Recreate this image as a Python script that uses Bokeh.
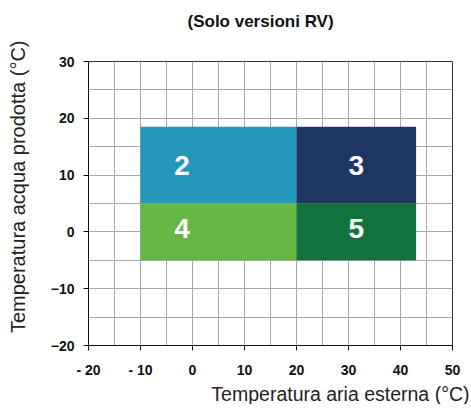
import math
from bokeh.plotting import figure
from bokeh.models import ColumnDataSource, Title, FixedTicker
from bokeh.core.properties import value
from bokeh.embed import file_html
from bokeh.resources import INLINE

# Data
zones = ["2", "3", "4", "5"]
x_left = [-10, 20, -10, 20]
x_right = [20, 43, 20, 43]
y_bottom = [5, 5, -5, -5]
y_top = [18.5, 18.5, 5, 5]
zone_colors = ["#2398BB", "#1F3564", "#66B746", "#13733D"]
label_x = [-2, 31.5, -2, 31.5]
label_y = [11.7, 11.7, 0.6, 0.6]

x_ticks = [-20, -10, 0, 10, 20, 30, 40, 50]
x_tick_labels = ["- 20", "- 10", "0", "10", "20", "30", "40", "50"]
y_ticks = [-20, -10, 0, 10, 20, 30]
grid_ticks_x = list(range(-20, 55, 5))
grid_ticks_y = list(range(-20, 35, 5))

title_text = "(Solo versioni RV)"
x_title = "Temperatura aria esterna (°C)"
y_title = "Temperatura acqua prodotta (°C)"

FONT = "Liberation Sans"

p = figure(frame_width=364, frame_height=284, x_range=(-20, 50), y_range=(-20, 30),
           output_backend="svg", toolbar_location=None, title=None,
           min_border_left=88, min_border_right=19, min_border_top=61, min_border_bottom=56)

p.outline_line_color = "#333333"
p.outline_line_width = 1
p.background_fill_color = "white"
p.border_fill_color = "white"

# grid
p.xgrid.ticker = FixedTicker(ticks=grid_ticks_x)
p.ygrid.ticker = FixedTicker(ticks=grid_ticks_y)
p.xgrid.grid_line_color = "#A8A8A8"
p.ygrid.grid_line_color = "#A8A8A8"
p.xgrid.grid_line_width = 1
p.ygrid.grid_line_width = 1

# axes
for ax in (p.xaxis, p.yaxis):
    ax.axis_line_color = "#111111"
    ax.major_tick_line_color = "#111111"
    ax.major_tick_out = 5
    ax.major_tick_in = 0
    ax.minor_tick_line_color = None
    ax.major_label_text_font = FONT
    ax.major_label_text_font_style = "bold"
    ax.major_label_text_font_size = "14px"
    ax.major_label_text_color = "#111111"
p.xaxis.ticker = FixedTicker(ticks=x_ticks)
p.yaxis.ticker = FixedTicker(ticks=y_ticks)
p.xaxis.major_label_overrides = {t: l for t, l in zip(x_ticks, x_tick_labels)}
p.xaxis.major_label_standoff = 11
p.yaxis.major_label_standoff = 9

src = ColumnDataSource(dict(left=x_left, right=x_right, bottom=y_bottom, top=y_top,
                            color=zone_colors, zone=zones, lx=label_x, ly=label_y))
p.quad(left="left", right="right", bottom="bottom", top="top", fill_color="color",
       line_color=None, source=src)
p.text(x="lx", y="ly", text="zone", source=src, text_color="white",
       text_font=value(FONT), text_font_style="bold", text_font_size="28px",
       text_align="center", text_baseline="middle")

# spacer + title above
p.add_layout(Title(text=" ", text_font_size="1px", standoff=27), "above")
p.add_layout(Title(text=title_text, align="left", offset=99, text_font=FONT,
                   text_font_size="17px", text_font_style="bold", text_color="#111111",
                   standoff=2), "above")

# x axis title
p.add_layout(Title(text=x_title, align="right", text_font=FONT, text_font_size="19.5px",
                   text_font_style="normal", text_color="#222222", standoff=0, offset=-17),
             "below")

# spacer + y axis title
p.add_layout(Title(text=" ", text_font_size="1px", standoff=16), "left")
p.add_layout(Title(text=y_title, align="right", offset=-21, text_font=FONT,
                   text_font_size="20px", text_font_style="normal", text_color="#222222",
                   standoff=0), "left")

open("out.html", "w").write(file_html(p, INLINE))
